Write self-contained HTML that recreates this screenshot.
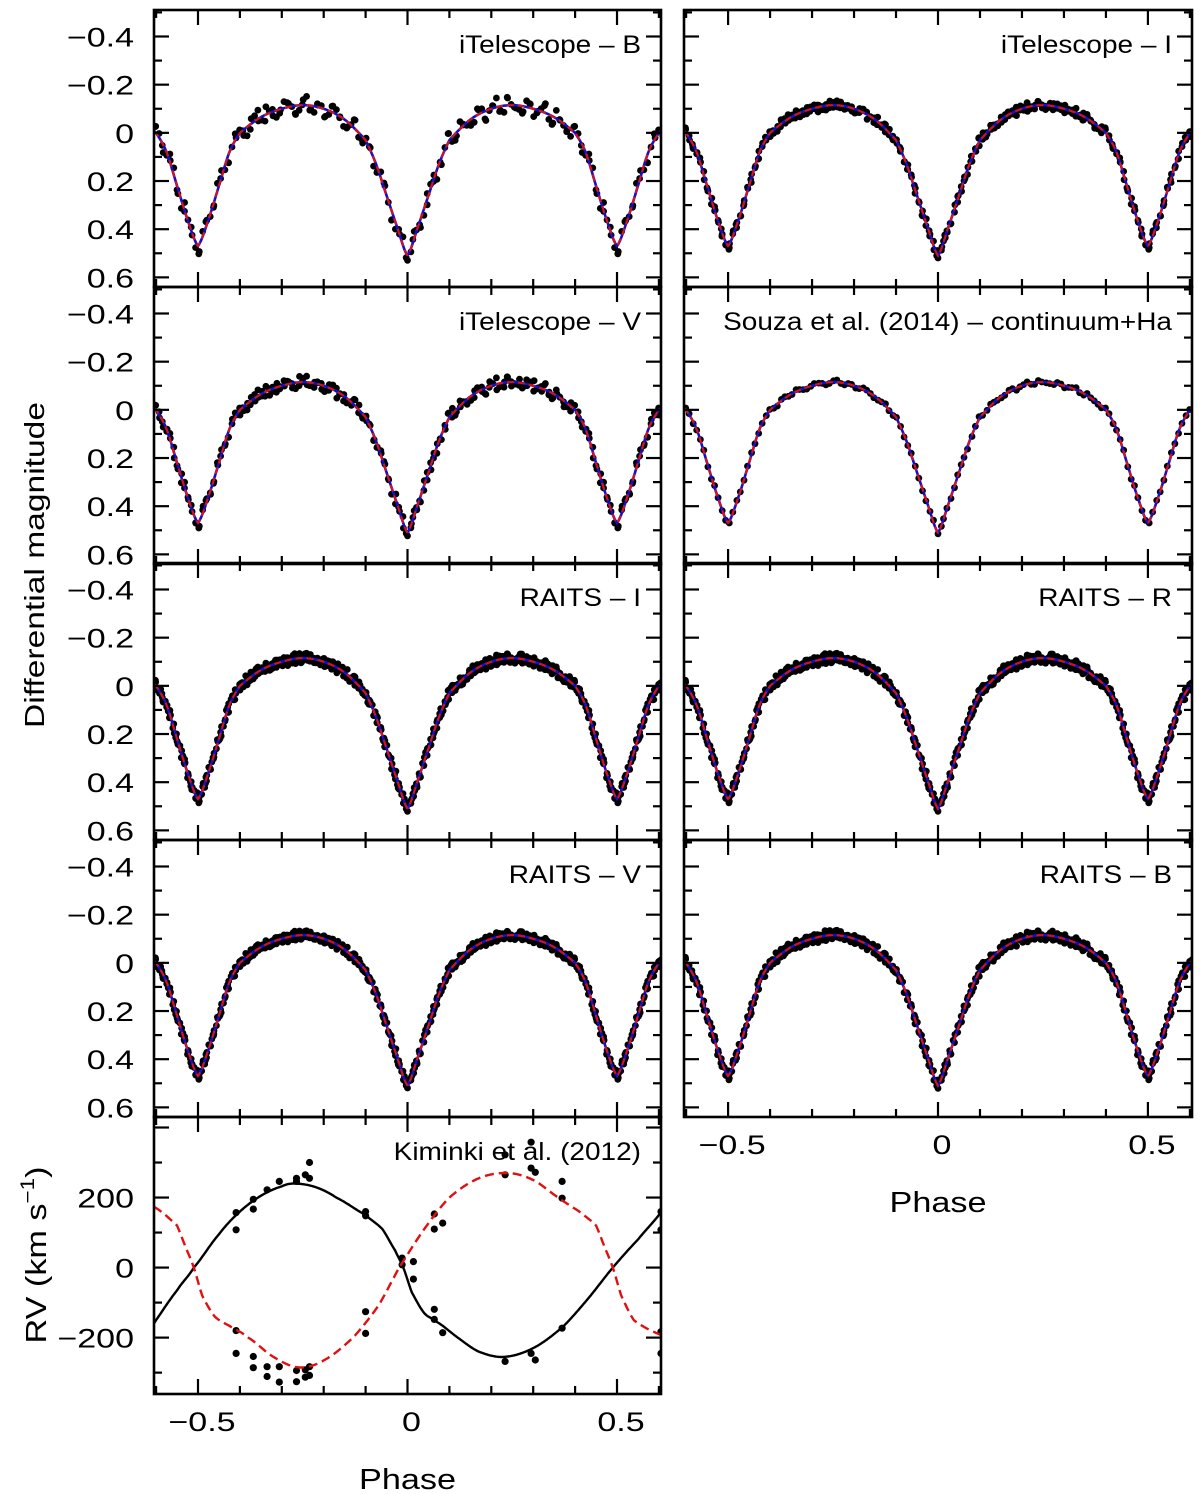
<!DOCTYPE html>
<html><head><meta charset="utf-8">
<style>
html,body{margin:0;padding:0;background:#fff;}
svg{display:block;font-family:"Liberation Sans",Arial,sans-serif;}
</style></head>
<body>
<svg id="fig" width="1200" height="1494" viewBox="0 0 1200 1494" xmlns="http://www.w3.org/2000/svg">
<g id="layer"></g>
</svg>
<script>
// ---- model light-curve knots (|phase| from primary eclipse, magnitude)
const lcKnotPhase = [0,0.025,0.05,0.075,0.1,0.15,0.2,0.25,0.3,0.35,0.4,0.425,0.45,0.475,0.5];
const lcKnotMag   = [0.51,0.39,0.26,0.13,0.03,-0.055,-0.10,-0.115,-0.10,-0.065,0.0,0.08,0.22,0.36,0.47];
// ---- observation phases and residuals (sampled)
const obsPhase = [0.00,0.013,0.031,0.047,0.062,0.081,0.098,0.117,0.133,0.151,0.169,0.187,0.204,0.222,0.239,0.258,0.276,0.293,0.311,0.329,0.347,0.364,0.381,0.399,0.417,0.434,0.452,0.468,0.486,0.503,0.521,0.538,0.556,0.573,0.591,0.609,0.627,0.644,0.662,0.679,0.697,0.716,0.733,0.751,0.769,0.786,0.804,0.822,0.839,0.857,0.875,0.893,0.911,0.928,0.946,0.963,0.981];
const obsResid = [0.012,-0.008,0.021,-0.015,0.004,0.018,-0.022,0.009,-0.004,0.016,-0.012,0.025,-0.006,0.011,-0.019,0.007,0.014,-0.010,0.003,-0.024,0.017,-0.002,0.010,-0.016,0.020,-0.007,0.013,-0.021,0.005,0.019,-0.011,0.008,-0.018,0.022,-0.003,0.015,-0.013,0.006,-0.020,0.011,0.002,-0.009,0.023,-0.014,0.009,-0.005,0.018,-0.017,0.001,0.013,-0.023,0.016,-0.006,0.010,-0.012,0.020,-0.001];
const repShift = [0,0.0061,0.0117,0.0029,0.0089,0.0043,0.0103,0.0152];
const panelLabels = ["iTelescope – B","iTelescope – I","iTelescope – V","Souza et al. (2014) – continuum+Ha","RAITS – I","RAITS – R","RAITS – V","RAITS – B"];
const panelCol = [0,1,0,1,0,1,0,1];
const panelRow = [0,0,1,1,2,2,3,3];
const panelReps = [3,5,4,2,8,8,8,7];
const panelNoise = [1.6,0.8,1.1,0.4,0.9,0.9,0.8,0.9];
const magTicks = [-0.4,-0.2,0,0.2,0.4,0.6];
const magTickLabels = ["−0.4","−0.2","0","0.2","0.4","0.6"];
const phaseTicks = [-0.5,0,0.5];
const phaseTickLabels = ["−0.5","0","0.5"];
// ---- RV
const rvPrimPhase = [-0.65,-0.6,-0.55,-0.51,-0.45,-0.4,-0.35,-0.3,-0.27,-0.22,-0.17,-0.1,-0.06,-0.03,-0.01,0.01,0.04,0.07,0.12,0.17,0.23,0.3,0.37,0.43,0.49,0.55,0.6,0.65];
const rvPrimVal   = [-240,-150,-65,0,95,160,205,232,240,230,200,150,110,50,0,-70,-130,-155,-200,-240,-255,-230,-170,-90,0,80,150,230];
const rvSecPhase = [-0.65,-0.6,-0.55,-0.53,-0.51,-0.49,-0.46,-0.42,-0.38,-0.32,-0.26,-0.2,-0.13,-0.07,-0.02,0.04,0.1,0.17,0.24,0.3,0.36,0.41,0.45,0.47,0.49,0.51,0.54,0.6,0.65];
const rvSecVal   = [195,170,120,60,0,-80,-140,-170,-200,-255,-285,-265,-200,-110,0,110,200,255,270,250,200,160,120,60,0,-80,-150,-190,-210];
const rvObsPhase = [-0.409,-0.409,-0.368,-0.368,-0.335,-0.306,-0.265,-0.265,-0.244,-0.234,-0.234,-0.1,-0.1,-0.013,-0.013,0.014,0.014,0.064,0.064,0.084,0.233,0.233,0.295,0.295,0.305,0.369,0.369,0.605,0.605,
 -0.409,-0.409,-0.368,-0.368,-0.335,-0.335,-0.306,-0.306,-0.265,-0.265,-0.244,-0.244,-0.234,-0.234,-0.1,-0.1,0.064,0.064,0.084,0.233,0.295,0.305,0.369,0.605,0.605];
const rvObsVal = [157,108,195,167,222,246,255,246,265,255,300,160,148,27,8,17,-33,153,110,127,265,322,358,284,272,246,198,160,108,
 -180,-245,-254,-286,-283,-311,-283,-327,-294,-326,-292,-313,-283,-308,-126,-188,-119,-148,-186,-268,-245,-264,-173,-183,-245];
const rvTicks = [-200,0,200];
const rvTickLabels = ["−200","0","200"];

const NS="http://www.w3.org/2000/svg";
const layer=document.getElementById('layer');
function mk(tag,attrs,parent){const e=document.createElementNS(NS,tag);for(const k in attrs)e.setAttribute(k,attrs[k]);(parent||layer).appendChild(e);return e;}
function txt(parent,x,y,str,size,anchor,sx,rot){
  const tr='translate('+x+','+y+')'+(rot?' rotate(-90)':'')+' scale('+sx+',1)';
  const t=mk('text',{x:0,y:0,transform:tr,'text-anchor':anchor,'font-size':size,fill:'#000'},parent);
  t.textContent=str;return t;
}

function catmull(xs,ys,x){
  let i=0;while(i<xs.length-2&&x>xs[i+1])i++;
  const x0=xs[i],x1=xs[i+1];const t=(x-x0)/(x1-x0);
  const p0=ys[Math.max(i-1,0)],p1=ys[i],p2=ys[i+1],p3=ys[Math.min(i+2,ys.length-1)];
  const t2=t*t,t3=t2*t;
  return 0.5*((2*p1)+(-p0+p2)*t+(2*p0-5*p1+4*p2-p3)*t2+(-p0+3*p1-3*p2+p3)*t3);
}
function model(ph){let p=((ph%1)+1.5)%1-0.5;p=Math.abs(p);return catmull(lcKnotPhase,lcKnotMag,p);}

const colX=[[154,661],[684,1192]];
const rowTop=[10,287,563,840];
const PH=277;
const PMIN=-0.605,PMAX=0.605,MMIN=-0.51,MMAX=0.64;
const TICKSX=1.26, LABSX=1.12;

for(let k=0;k<panelLabels.length;k++){
  const x0=colX[panelCol[k]][0],x1=colX[panelCol[k]][1],top=rowTop[panelRow[k]],bot=top+PH;
  const xs=p=>x0+(p-PMIN)/(PMAX-PMIN)*(x1-x0);
  const ys=m=>top+(m-MMIN)/(MMAX-MMIN)*PH;
  const g=mk('g',{});
  
  
  const clipId='c'+k;
  const cp=mk('clipPath',{id:clipId},g);mk('rect',{x:x0,y:top,width:x1-x0,height:PH},cp);
  const pts=mk('g',{'clip-path':'url(#'+clipId+')'},g);
  
  
  for(let r=0;r<panelReps[k];r++){
    for(let i=0;i<obsPhase.length;i++){
      const base=(obsPhase[i]+repShift[r]+r*0.0021)%1;
      const res=obsResid[(i+r*7)%obsResid.length]*panelNoise[k];
      for(const ph of [base,base-1]){
        if(ph<PMIN-0.01||ph>PMAX+0.01)continue;
        mk('circle',{cx:xs(ph).toFixed(1),cy:ys(model(ph)+res).toFixed(1),r:3.4,fill:'#000'},pts);
      }
    }
  }
  let d='';
  for(let px=x0;px<=x1;px+=1){const ph=PMIN+(px-x0)/(x1-x0)*(PMAX-PMIN);d+=(px===x0?'M':'L')+px+','+ys(model(ph)).toFixed(1);}
  const bl=mk('path',{d:d,fill:'none',stroke:'#1010d0','stroke-width':2.6},g);
  
  
  const rd=mk('path',{d:d,fill:'none',stroke:'#e01010','stroke-width':2,'stroke-dasharray':'7,4'},g);
  
  
  for(let v=-0.5;v<=0.61;v+=0.1){const vv=Math.round(v*10)/10;const L=(Math.abs(vv*10)%2===0)?15:8;const y=ys(vv);
    mk('line',{x1:x0,y1:y,x2:x0+L,y2:y,stroke:'#000','stroke-width':2.2},g);mk('line',{x1:x1,y1:y,x2:x1-L,y2:y,stroke:'#000','stroke-width':2.2},g);}
  for(let v=-0.6;v<=0.61;v+=0.1){const vv=Math.round(v*10)/10;const L=(Math.abs(vv*10)%5===0)?15:8;const x=xs(vv);
    mk('line',{x1:x,y1:top,x2:x,y2:top+L,stroke:'#000','stroke-width':2.2},g);mk('line',{x1:x,y1:bot,x2:x,y2:bot-L,stroke:'#000','stroke-width':2.2},g);}
  mk('rect',{x:x0,y:top,width:x1-x0,height:PH,fill:'none',stroke:'#000','stroke-width':2.6},g);
  const t=txt(g,x1-20,top+43,panelLabels[k],25,'end',LABSX);
  
  
  if(panelCol[k]===0){
    for(let j=0;j<magTicks.length;j++){const tl=txt(g,134,ys(magTicks[j])+10,magTickLabels[j],27,'end',TICKSX);
      
      }
  }
  if(k===7){
    for(let j=0;j<phaseTicks.length;j++){const tl=txt(g,xs(phaseTicks[j])+4,bot+37,phaseTickLabels[j],27,'middle',TICKSX);
      
      }
    const xt=txt(g,(x0+x1)/2,bot+95,'Phase',29,'middle',1.18);
    
    
  }
}
const yt=txt(layer,44,565,'Differential magnitude',28,'middle',1.2,true);



// RV panel
(function(){
  const x0=154,x1=661,top=1117,bot=1394,VMAX=430,VMIN=-361;
  const xs=p=>x0+(p-PMIN)/(PMAX-PMIN)*(x1-x0);
  const ys=v=>top+(VMAX-v)/(VMAX-VMIN)*(bot-top);
  const g=mk('g',{});
  
  
  const cp=mk('clipPath',{id:'crv'},g);mk('rect',{x:x0,y:top,width:x1-x0,height:bot-top},cp);
  const inner=mk('g',{'clip-path':'url(#crv)'},g);
  for(let i=0;i<rvObsPhase.length;i++){mk('circle',{cx:xs(rvObsPhase[i]).toFixed(1),cy:ys(rvObsVal[i]).toFixed(1),r:3.6,fill:'#000'},inner);}
  function curve(P,V){let d='';for(let px=x0;px<=x1;px++){const ph=PMIN+(px-x0)/(x1-x0)*(PMAX-PMIN);d+=(px===x0?'M':'L')+px+','+ys(catmull(P,V,ph)).toFixed(1);}return d;}
  const pc=mk('path',{d:curve(rvPrimPhase,rvPrimVal),fill:'none',stroke:'#000','stroke-width':2.4},inner);
  
  
  const sc=mk('path',{d:curve(rvSecPhase,rvSecVal),fill:'none',stroke:'#e01010','stroke-width':2.4,'stroke-dasharray':'9,5'},inner);
  
  
  for(let v=-300;v<=400;v+=100){const L=(v%200===0)?15:8;const y=ys(v);
    mk('line',{x1:x0,y1:y,x2:x0+L,y2:y,stroke:'#000','stroke-width':2.2},g);mk('line',{x1:x1,y1:y,x2:x1-L,y2:y,stroke:'#000','stroke-width':2.2},g);}
  for(let v=-0.6;v<=0.61;v+=0.1){const vv=Math.round(v*10)/10;const L=(Math.abs(vv*10)%5===0)?15:8;const x=xs(vv);
    mk('line',{x1:x,y1:top,x2:x,y2:top+L,stroke:'#000','stroke-width':2.2},g);mk('line',{x1:x,y1:bot,x2:x,y2:bot-L,stroke:'#000','stroke-width':2.2},g);}
  mk('rect',{x:x0,y:top,width:x1-x0,height:bot-top,fill:'none',stroke:'#000','stroke-width':2.6},g);
  const t=txt(g,x1-20,top+43,'Kiminki et al. (2012)',25,'end',LABSX);
  
  
  for(let j=0;j<rvTicks.length;j++){const tl=txt(g,134,ys(rvTicks[j])+10,rvTickLabels[j],27,'end',TICKSX);
    
    }
  for(let j=0;j<phaseTicks.length;j++){const tl=txt(g,xs(phaseTicks[j])+4,bot+37,phaseTickLabels[j],27,'middle',TICKSX);
    
    }
  const xt=txt(g,(x0+x1)/2,bot+95,'Phase',29,'middle',1.18);
  
  
  const rt=mk('text',{x:0,y:0,transform:'translate(46,1255) rotate(-90) scale(1.18,1)','text-anchor':'middle','font-size':29,fill:'#000'},g);
  
  
  const t1=mk('tspan',{},rt);t1.textContent='RV (km s';
  const t2=mk('tspan',{'font-size':19,dy:-12},rt);t2.textContent='−1';
  const t3=mk('tspan',{dy:12},rt);t3.textContent=')';
})();
</script>
</body></html>
